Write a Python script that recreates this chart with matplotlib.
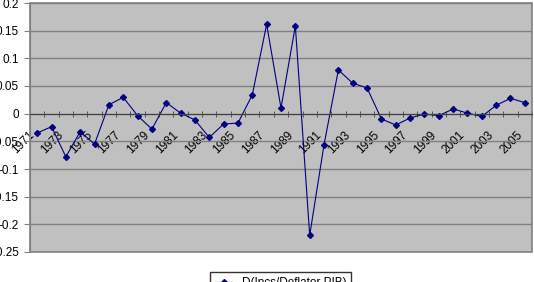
import numpy as np
import matplotlib.pyplot as plt
from matplotlib.patches import Rectangle

plt.rcParams['font.family'] = ['Liberation Sans', 'DejaVu Sans']

years = list(range(1971, 2006))
values = [-0.035, -0.0235, -0.078, -0.0325, -0.055, 0.016, 0.0295, -0.0036,
          -0.028, 0.02, 0.001, -0.0114, -0.043, -0.0187, -0.017, 0.034,
          0.1615, 0.0103, 0.1585, -0.22, -0.056, 0.079, 0.055, 0.0465,
          -0.0096, -0.0205, -0.0078, -0.0005, -0.0036, 0.0085, 0.001, -0.005,
          0.015, 0.0277, 0.02]
y_ticks = [0.2, 0.15, 0.1, 0.05, 0, -0.05, -0.1, -0.15, -0.2, -0.25]
y_labels = ['0.2', '0.15', '0.1', '0.05', '0', '-0.05', '-0.1', '-0.15', '-0.2', '-0.25']
series_name = 'D(Ipcs/Deflator PIB)'

fig = plt.figure(figsize=(5.34, 2.82), dpi=100)
fig.patch.set_facecolor('white')
ax = fig.add_axes([30 / 534, 30 / 282, 502 / 534, 249 / 282])
ax.set_facecolor('#c0c0c0')

x = np.arange(len(years))
ax.plot(x, values, color='#000080', lw=0.8, marker='D', ms=3, label=series_name)

ax.set_xlim(-0.5, len(years) - 0.5)
ax.set_ylim(-0.25, 0.2)
ax.set_yticks(y_ticks)
ax.set_yticklabels(y_labels, fontsize=8.5)
ax.yaxis.grid(True, color='#808080', lw=1)
ax.set_axisbelow(True)

# category axis crosses at zero
for s in ['top', 'right']:
    ax.spines[s].set_visible(False)
ax.spines['left'].set_color('#808080')
ax.spines['bottom'].set_position(('data', 0))
ax.spines['bottom'].set_color('#404040')
ax.set_xticks(x[::2])
ax.set_xticklabels([str(y) for y in years[::2]], rotation=45, ha='right',
                   fontsize=8.5)
ax.set_xticks(np.arange(-0.5, len(years), 1), minor=True)
ax.tick_params(axis='x', which='major', length=0, pad=11)
ax.tick_params(axis='x', which='minor', length=5, direction='inout',
               color='#404040')
ax.tick_params(axis='y', length=4, color='#808080', pad=4)
ax.add_patch(Rectangle((0, 0), 1, 1, transform=ax.transAxes, fill=False,
                       ec='#808080', lw=1.2, clip_on=False))

fig.legend(loc='upper left', bbox_to_anchor=(210 / 534, 10 / 282),
           fontsize=8.5, frameon=True, fancybox=False, edgecolor='black',
           borderaxespad=0, handlelength=1.5)

plt.savefig('out.png', dpi=100)
